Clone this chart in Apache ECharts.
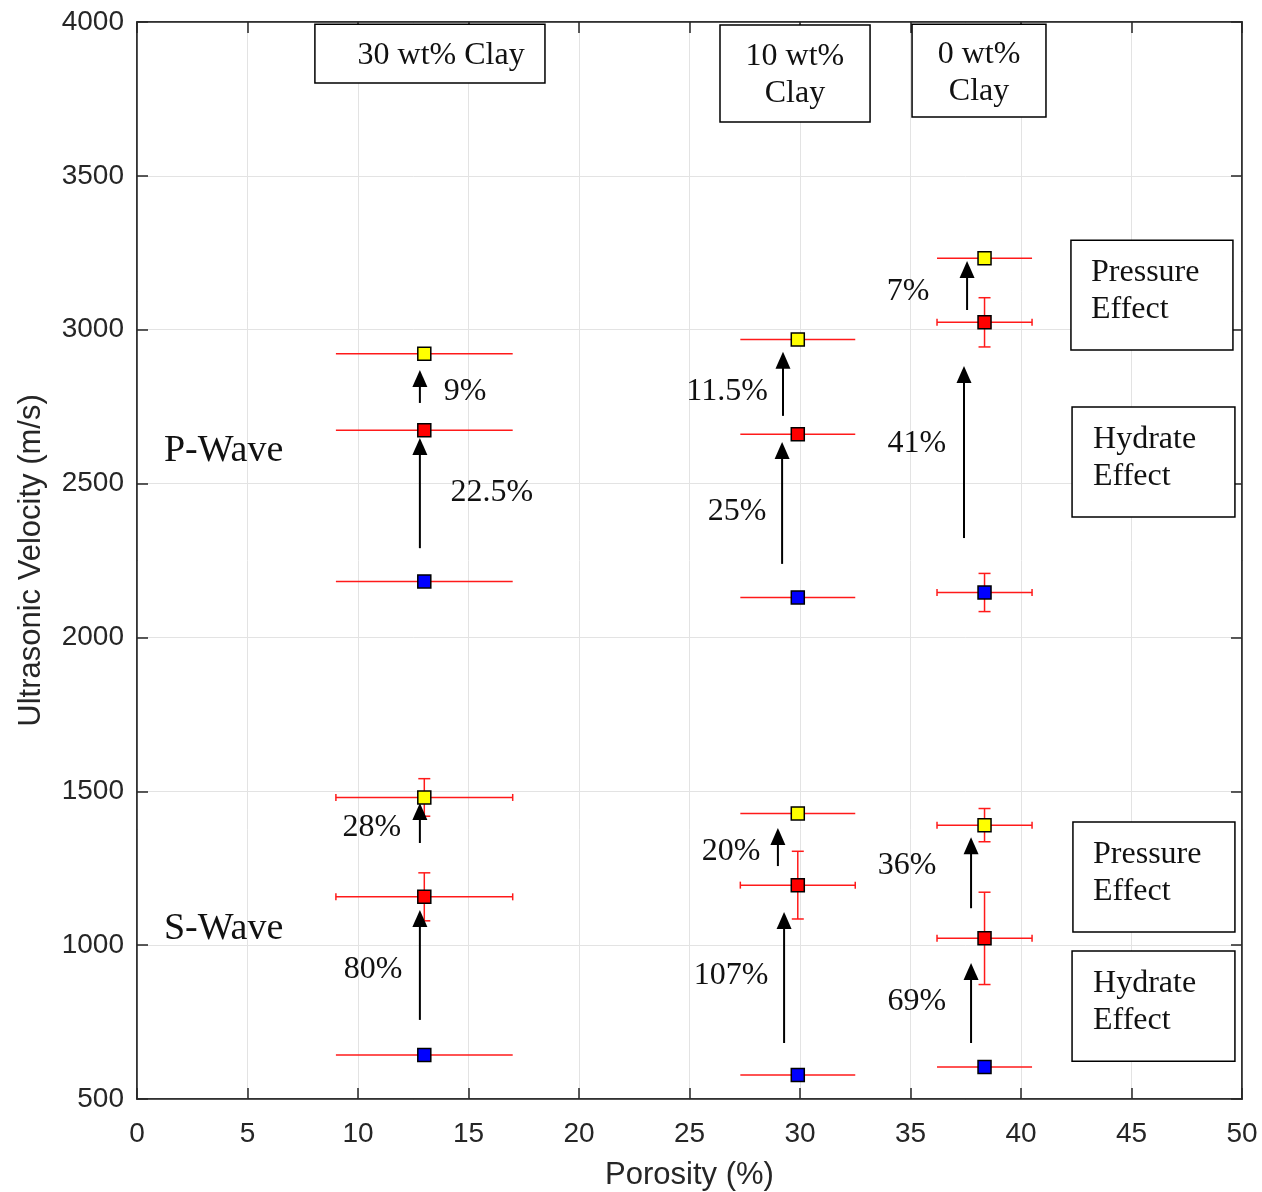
<!DOCTYPE html>
<html>
<head>
<meta charset="utf-8">
<script src="https://cdn.jsdelivr.net/npm/echarts@6/dist/echarts.min.js"></script>
<style>
  html, body { margin: 0; padding: 0; background: #fff; }
  #chart { width: 1262px; height: 1192px; }
</style>
</head>
<body>
<div id="chart"></div>
<script>
// samples: 30, 10, 0 wt% clay
const porosity = [13.0, 29.9, 38.35];
const porosityLow = [9.0, 27.3, 36.2];
const porosityHigh = [17.0, 32.5, 40.5];

// P-wave velocity (m/s)
const pBase = [2182, 2130, 2146];
const pHydrate = [2673, 2660, 3024];
const pPressure = [2922, 2968, 3232];
const pBaseErr = [0, 0, 62];
const pHydrateErr = [0, 0, 80];
const pPressureErr = [0, 0, 0];

// S-wave velocity (m/s)
const sBase = [643, 578, 604];
const sHydrate = [1157, 1195, 1022];
const sPressure = [1480, 1428, 1390];
const sBaseErr = [0, 0, 0];
const sHydrateErr = [78, 110, 150];
const sPressureErr = [61, 0, 54];

// arrows (porosity, from velocity, to velocity)
const arrowX = [12.8, 12.8, 12.8, 12.8, 29.23, 29.19, 29.0, 29.28, 37.56, 37.42, 37.74, 37.74];
const arrowFrom = [2762, 2290, 1332, 757, 2720, 2239, 1257, 682, 3064, 2323, 1120, 682];
const arrowTo = [2869, 2648, 1462, 1114, 2928, 2635, 1381, 1108, 3223, 2882, 1351, 942];

// percent change labels
const changeLabels = ['9%', '22.5%', '28%', '80%', '11.5%', '25%', '20%', '107%', '7%', '41%', '36%', '69%'];
const labelX = [14.84, 16.06, 10.63, 10.68, 26.70, 27.15, 26.88, 26.88, 34.89, 35.29, 34.84, 35.29];
const labelY = [2807, 2476, 1387, 926, 2807, 2417, 1309, 909, 3129, 2635, 1264, 822];

const waveNames = ['P-Wave', 'S-Wave'];
const waveX = [1.22, 1.22];
const waveY = [2612, 1059];

// text boxes
const boxTexts = ['30 wt% Clay', '10 wt%\nClay', '0 wt%\nClay', 'Pressure\nEffect', 'Hydrate\nEffect', 'Pressure\nEffect', 'Hydrate\nEffect'];
const boxX0 = [8.05, 26.38, 35.07, 42.26, 42.31, 42.35, 42.31];
const boxX1 = [18.46, 33.17, 41.13, 49.59, 49.68, 49.68, 49.68];
const boxY0 = [3993, 3990, 3993, 3291, 2749, 1400, 981];
const boxY1 = [3802, 3675, 3691, 2934, 2391, 1043, 623];
const boxTextX = [13.76, 29.77, 38.1, 43.17, 43.26, 43.26, 43.26];
const boxAlign = ['center', 'center', 'center', 'left', 'left', 'left', 'left'];
const boxTextShift = [2, 2, 2, -4, -4, -4, -4];

const serif = '"Liberation Serif", "Times New Roman", serif';
const sans = '"Liberation Sans", Arial, Helvetica, sans-serif';
const axisColor = '#262626';

// error bar rows: x, y, xlo, xhi, ylo, yhi, cap
const errRows = [];
[[pBase, pBaseErr], [pHydrate, pHydrateErr], [pPressure, pPressureErr],
 [sBase, sBaseErr], [sHydrate, sHydrateErr], [sPressure, sPressureErr]].forEach(([vals, errs]) => {
  vals.forEach((v, i) => {
    errRows.push([porosity[i], v, porosityLow[i], porosityHigh[i], v - errs[i], v + errs[i], errs[i] > 0 ? 1 : 0]);
  });
});

const pointsOf = (pv, sv) => porosity.map((x, i) => [x, pv[i]]).concat(porosity.map((x, i) => [x, sv[i]]));

const arrowRows = arrowX.map((x, i) => [x, arrowFrom[i], arrowTo[i]]);
const labelRows = labelX.map((x, i) => [x, labelY[i], i]);
const waveRows = waveX.map((x, i) => [x, waveY[i], i]);
const boxRows = boxTexts.map((t, i) => [boxX0[i], boxY0[i], boxX1[i], boxY1[i], boxTextX[i], i]);

const marker = (color) => ({
  type: 'scatter',
  symbol: 'rect',
  symbolSize: 13,
  itemStyle: { color: color, borderColor: '#000', borderWidth: 1.5, opacity: 1 },
  z: 5,
  silent: true
});

const chart = echarts.init(document.getElementById('chart'));
chart.setOption({
  animation: false,
  backgroundColor: '#fff',
  grid: {
    left: 137, right: 20, top: 22, bottom: 93,
    containLabel: false, outerBoundsMode: 'none',
    show: true, borderColor: axisColor, borderWidth: 1.5
  },
  xAxis: [
    {
      type: 'value', min: 0, max: 50, interval: 5,
      name: 'Porosity (%)', nameLocation: 'middle', nameGap: 61,
      nameTextStyle: { fontFamily: sans, fontSize: 31, color: axisColor },
      axisLine: { show: true, onZero: false, lineStyle: { color: axisColor, width: 1.5 } },
      axisTick: { show: true, inside: true, length: 11, lineStyle: { color: axisColor, width: 1.5 } },
      axisLabel: { fontFamily: sans, fontSize: 28, color: axisColor, margin: 21 },
      splitLine: { show: true, lineStyle: { color: '#e3e3e3', width: 1 } }
    },
    {
      type: 'value', min: 0, max: 50, interval: 5, position: 'top',
      axisLine: { show: true, onZero: false, lineStyle: { color: axisColor, width: 1.5 } },
      axisTick: { show: true, inside: true, length: 11, lineStyle: { color: axisColor, width: 1.5 } },
      axisLabel: { show: false }, splitLine: { show: false }
    }
  ],
  yAxis: [
    {
      type: 'value', min: 500, max: 4000, interval: 500,
      name: 'Ultrasonic Velocity (m/s)', nameLocation: 'middle', nameGap: 90,
      nameTextStyle: { fontFamily: sans, fontSize: 31, color: axisColor },
      axisLine: { show: true, onZero: false, lineStyle: { color: axisColor, width: 1.5 } },
      axisTick: { show: true, inside: true, length: 11, lineStyle: { color: axisColor, width: 1.5 } },
      axisLabel: { fontFamily: sans, fontSize: 28, color: axisColor, margin: 13, formatter: (v) => String(v) },
      splitLine: { show: true, lineStyle: { color: '#e3e3e3', width: 1 } }
    },
    {
      type: 'value', min: 500, max: 4000, interval: 500, position: 'right',
      axisLine: { show: true, onZero: false, lineStyle: { color: axisColor, width: 1.5 } },
      axisTick: { show: true, inside: true, length: 11, lineStyle: { color: axisColor, width: 1.5 } },
      axisLabel: { show: false }, splitLine: { show: false }
    }
  ],
  series: [
    {
      // error bars
      type: 'custom',
      data: errRows,
      encode: { x: 0, y: 1 },
      z: 3,
      silent: true,
      renderItem: (params, api) => {
        const y = api.value(1);
        const x = api.value(0);
        const pl = api.coord([api.value(2), y]);
        const ph = api.coord([api.value(3), y]);
        const cap = api.value(6) === 1;
        const style = { stroke: '#ff1a1a', lineWidth: 1.5 };
        const kids = [{ type: 'line', shape: { x1: pl[0], y1: pl[1], x2: ph[0], y2: ph[1] }, style }];
        if (api.value(4) !== api.value(5)) {
          const lo = api.coord([x, api.value(4)]);
          const hi = api.coord([x, api.value(5)]);
          kids.push({ type: 'line', shape: { x1: lo[0], y1: lo[1], x2: hi[0], y2: hi[1] }, style });
          if (cap) {
            kids.push({ type: 'line', shape: { x1: lo[0] - 6, y1: lo[1], x2: lo[0] + 6, y2: lo[1] }, style });
            kids.push({ type: 'line', shape: { x1: hi[0] - 6, y1: hi[1], x2: hi[0] + 6, y2: hi[1] }, style });
          }
        }
        if (cap) {
          kids.push({ type: 'line', shape: { x1: pl[0], y1: pl[1] - 3.5, x2: pl[0], y2: pl[1] + 3.5 }, style });
          kids.push({ type: 'line', shape: { x1: ph[0], y1: ph[1] - 3.5, x2: ph[0], y2: ph[1] + 3.5 }, style });
        }
        return { type: 'group', children: kids };
      }
    },
    Object.assign(marker('#0000ff'), { data: pointsOf(pBase, sBase) }),
    Object.assign(marker('#ff0000'), { data: pointsOf(pHydrate, sHydrate) }),
    Object.assign(marker('#ffff00'), { data: pointsOf(pPressure, sPressure) }),
    {
      // arrows
      type: 'custom',
      data: arrowRows,
      encode: { x: 0, y: 1 },
      z: 4,
      silent: true,
      renderItem: (params, api) => {
        const a = api.coord([api.value(0), api.value(1)]);
        const b = api.coord([api.value(0), api.value(2)]);
        const head = 17, half = 7.5;
        return {
          type: 'group',
          children: [
            { type: 'line', shape: { x1: a[0], y1: a[1], x2: b[0], y2: b[1] + head - 1 }, style: { stroke: '#000', lineWidth: 2 } },
            { type: 'polygon', shape: { points: [[b[0], b[1]], [b[0] - half, b[1] + head], [b[0] + half, b[1] + head]] }, style: { fill: '#000' } }
          ]
        };
      }
    },
    {
      // percent labels
      type: 'custom',
      data: labelRows,
      encode: { x: 0, y: 1 },
      z: 6,
      silent: true,
      renderItem: (params, api) => {
        const p = api.coord([api.value(0), api.value(1)]);
        return {
          type: 'text', x: p[0], y: p[1] + 2,
          style: { text: changeLabels[api.value(2)], fill: '#111', fontFamily: serif, fontSize: 32, align: 'center', verticalAlign: 'middle' }
        };
      }
    },
    {
      // wave labels
      type: 'custom',
      data: waveRows,
      encode: { x: 0, y: 1 },
      z: 6,
      silent: true,
      renderItem: (params, api) => {
        const p = api.coord([api.value(0), api.value(1)]);
        return {
          type: 'text', x: p[0], y: p[1] + 2,
          style: { text: waveNames[api.value(2)], fill: '#111', fontFamily: serif, fontSize: 38, align: 'left', verticalAlign: 'middle' }
        };
      }
    },
    {
      // boxed annotations
      type: 'custom',
      data: boxRows,
      encode: { x: 0, y: 1 },
      z: 7,
      silent: true,
      renderItem: (params, api) => {
        const i = api.value(5);
        const tl = api.coord([api.value(0), api.value(1)]);
        const br = api.coord([api.value(2), api.value(3)]);
        const tx = api.coord([api.value(4), api.value(1)])[0];
        return {
          type: 'group',
          children: [
            { type: 'rect', shape: { x: tl[0], y: tl[1], width: br[0] - tl[0], height: br[1] - tl[1] }, style: { fill: '#fff', stroke: '#000', lineWidth: 1.5 } },
            { type: 'text', x: tx, y: (tl[1] + br[1]) / 2 + boxTextShift[i],
              style: { text: boxTexts[i], fill: '#111', fontFamily: serif, fontSize: 32, lineHeight: 37, align: boxAlign[i], verticalAlign: 'middle' } }
          ]
        };
      }
    }
  ]
});
</script>
</body>
</html>
